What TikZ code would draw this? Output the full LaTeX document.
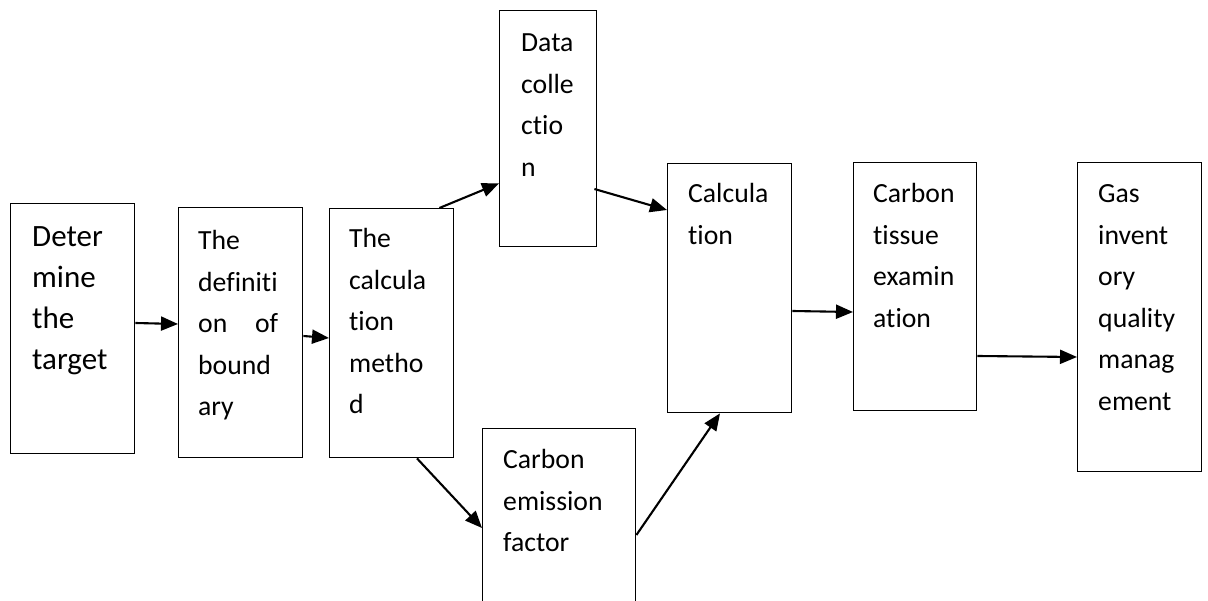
\documentclass[tikz,border=0pt]{standalone}
\usepackage{fontspec}
\setmainfont[Ligatures={NoCommon,NoContextual}]{Carlito}
\usetikzlibrary{arrows.meta}
\tikzset{
  box/.style={draw=black, line width=1.4pt, inner sep=0pt, anchor=north west, fill=white},
  txt/.style={anchor=base west, inner sep=0pt, font=\fontsize{27.7}{41.5}\selectfont},
  bigtxt/.style={anchor=base west, inner sep=0pt, font=\fontsize{31}{41}\selectfont},
  conn/.style={line width=2.1pt, -{Triangle[length=17pt,width=14pt]}}
}
\newcommand{\boxlines}[1]{\parbox[t]{4cm}{\raggedright #1}}
\begin{document}
\begin{tikzpicture}[x=1pt,y=-1pt]
\clip (0,0) rectangle (1208,601);
\fill[white] (0,0) rectangle (1208,601);
% boxes
\node[box, minimum width=124pt, minimum height=250pt] (b1) at (10,203) {};
\node[box, minimum width=124pt, minimum height=250pt] (b2) at (178,207) {};
\node[box, minimum width=124pt, minimum height=249pt] (b3) at (329,208) {};
\node[box, minimum width=97pt, minimum height=236pt] (b4) at (499,10) {};
\node[box, minimum width=153pt, minimum height=200pt] (b5) at (482,428) {};
\node[box, minimum width=124pt, minimum height=249pt] (b6) at (667,163) {};
\node[box, minimum width=123pt, minimum height=248pt] (b7) at (853,162) {};
\node[box, minimum width=124pt, minimum height=309pt] (b8) at (1077,162) {};
% texts
\node[bigtxt] (t1) at ([xshift=22pt,yshift=-44pt]b1.north west) {\boxlines{Deter\\mine\\the\\target}};
\node[txt] (t2) at ([xshift=20pt,yshift=-43pt]b2.north west) {\boxlines{The\\definiti\\\leavevmode\hbox to 80pt{on\hfill of}\\bound\\ary}};
\node[txt] (t3) at ([xshift=20pt,yshift=-40pt]b3.north west) {\boxlines{The\\calcula\\tion\\metho\\d}};
\node[txt] (t4) at ([xshift=22pt,yshift=-42pt]b4.north west) {\boxlines{Data\\colle\\ctio\\n}};
\node[txt] (t5) at ([xshift=21pt,yshift=-41pt]b5.north west) {\boxlines{Carbon\\emission\\factor}};
\node[txt] (t6) at ([xshift=21pt,yshift=-40pt]b6.north west) {\boxlines{Calcula\\tion}};
\node[txt] (t7) at ([xshift=20pt,yshift=-41pt]b7.north west) {\boxlines{Carbon\\tissue\\examin\\ation}};
\node[txt] (t8) at ([xshift=21pt,yshift=-41pt]b8.north west) {\boxlines{Gas\\invent\\ory\\quality\\manag\\ement}};
% connectors
\draw[conn] ([yshift=-120pt]b1.north east) -- ([yshift=-117pt]b2.north west);
\draw[conn] ([yshift=-129pt]b2.north east) -- ([yshift=-130pt]b3.north west);
\draw[conn] ([xshift=-15pt]b3.north east) -- ([yshift=64pt]b4.south west);
\draw[conn] ([xshift=-3pt,yshift=-179pt]b4.north east) -- ([yshift=-47pt]b6.north west);
\draw[conn] ([xshift=88pt]b3.south west) -- ([yshift=-100pt]b5.north west);
\draw[conn] ([yshift=-107pt]b5.north east) -- ([xshift=53pt]b6.south west);
\draw[conn] ([yshift=-148pt]b6.north east) -- ([yshift=-150pt]b7.north west);
\draw[conn] ([yshift=-194pt]b7.north east) -- ([yshift=-195pt]b8.north west);
\end{tikzpicture}
\end{document}
